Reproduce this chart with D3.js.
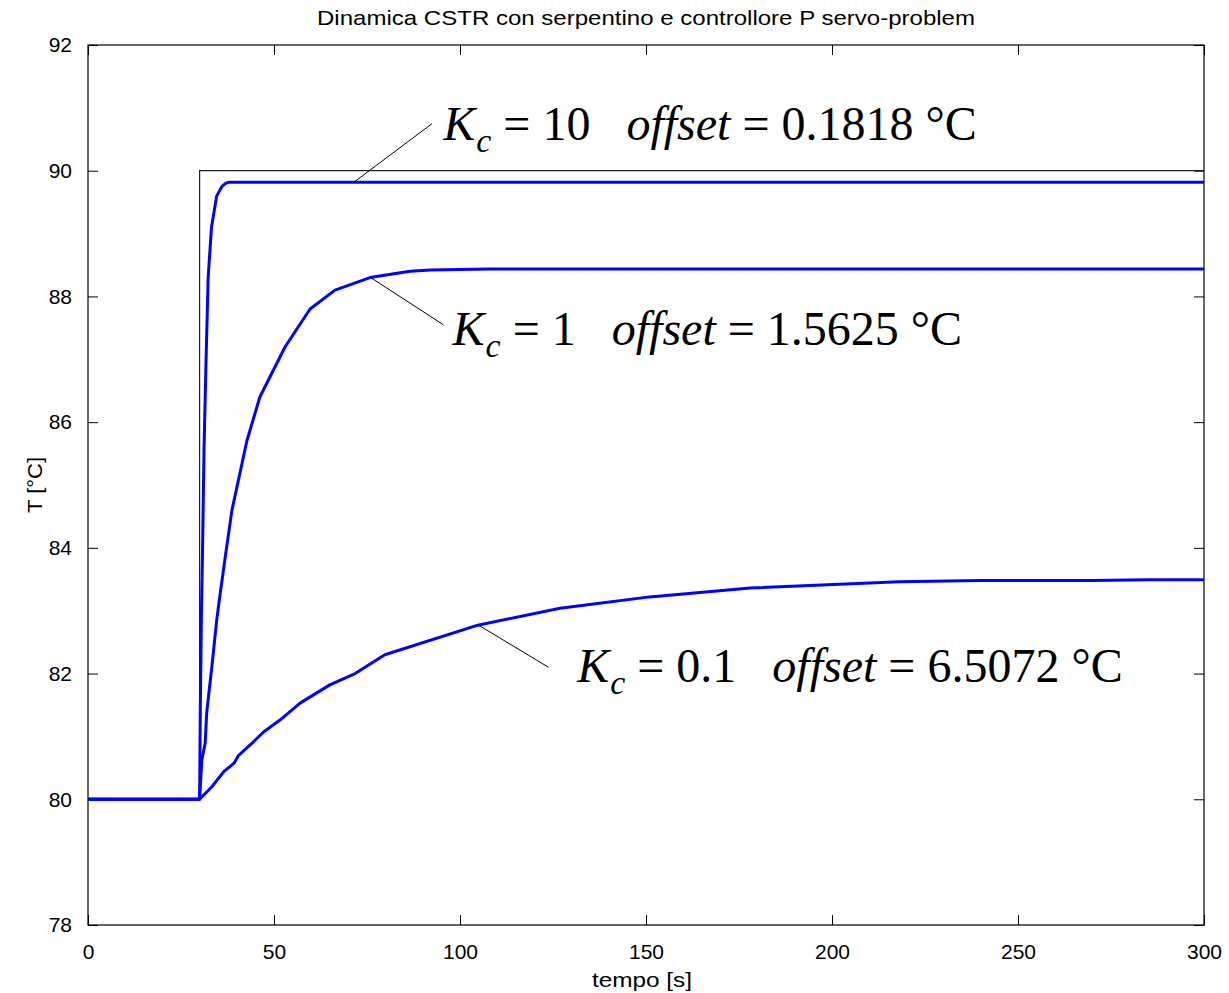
<!DOCTYPE html>
<html>
<head>
<meta charset="utf-8">
<script src="https://cdn.jsdelivr.net/npm/d3@7"></script>
<style>
html,body{margin:0;padding:0;background:#fff;}
svg{display:block;}
</style>
</head>
<body>
<svg id="chart" width="1229" height="993"></svg>
<script>
// ---- data ----
const title = "Dinamica CSTR con serpentino e controllore P servo-problem";
const xLabel = "tempo [s]";
const yLabel = "T [°C]";
const xTicks = [0, 50, 100, 150, 200, 250, 300];
const yTicks = [78, 80, 82, 84, 86, 88, 90, 92];

const setpointT = [0, 30, 30, 300];
const setpointY = [80, 80, 90, 90];

const kc10T = [0, 30, 30.2, 30.5, 30.8, 31.2, 31.7, 32.3, 33.2, 34.6, 36, 37, 38, 300];
const kc10Y = [80, 80, 81.5, 83.0, 84.0, 85.6, 86.9, 88.3, 89.1, 89.6, 89.75, 89.8, 89.818, 89.818];

const kc1T = [0, 30, 30.6, 31.5, 31.9, 33.3, 34.6, 35.3, 37, 38.7, 42.7, 46.2, 53, 59.7, 66.4, 75.8, 86.6, 92, 108, 300];
const kc1Y = [80, 80, 80.63, 80.89, 81.37, 82.11, 82.85, 83.17, 83.9, 84.6, 85.7, 86.4, 87.2, 87.8, 88.1, 88.3, 88.4, 88.42, 88.4375, 88.4375];

const kc01T = [0, 30, 33.3, 36.5, 39.2, 40.5, 43.5, 47.2, 51.6, 57, 65, 71.8, 79.8, 104.8, 126.9, 151, 178, 218, 240, 270, 285, 300];
const kc01Y = [80, 80, 80.2, 80.44, 80.57, 80.7, 80.86, 81.07, 81.26, 81.53, 81.82, 82.0, 82.3, 82.77, 83.04, 83.22, 83.36, 83.46, 83.48, 83.48, 83.4928, 83.4928];

const annKc = ["10", "1", "0.1"];
const annOffset = ["0.1818", "1.5625", "6.5072"];
// annotation arrow anchor on curve (data) and text anchor (data)
const annPointT = [71.5, 76, 105];
const annPointY = [89.818, 88.3, 82.77];
const annLineEndT = [92.5, 95.5, 123.8];
const annLineEndY = [90.75, 87.55, 82.1];
const annTextT = [95.5, 98, 131.5];
const annTextY = [90.49, 87.23, 81.87];

// ---- layout ----
const svg = d3.select("#chart");
const L = 88, R = 1204, T = 45, B = 925;
const x = d3.scaleLinear().domain([0, 300]).range([L, R]);
const y = d3.scaleLinear().domain([78, 92]).range([B, T]);
const tickLen = 10;

// frame
svg.append("rect").attr("x", L).attr("y", T).attr("width", R - L).attr("height", B - T)
  .attr("fill", "#fff").attr("stroke", "#000").attr("stroke-width", 1.2);

// axes
const axFont = "Arial, 'Liberation Sans', sans-serif";
const gx = svg.append("g").attr("transform", `translate(0,${B})`)
  .call(d3.axisBottom(x).tickValues(xTicks).tickSize(-tickLen).tickPadding(tickLen + 9).tickFormat(d3.format("d")));
const gxt = svg.append("g").attr("transform", `translate(0,${T})`)
  .call(d3.axisTop(x).tickValues(xTicks).tickSize(-tickLen).tickFormat(""));
const gy = svg.append("g").attr("transform", `translate(${L},0)`)
  .call(d3.axisLeft(y).tickValues(yTicks).tickSize(-tickLen).tickPadding(tickLen + 6).tickFormat(d3.format("d")));
const gyr = svg.append("g").attr("transform", `translate(${R},0)`)
  .call(d3.axisRight(y).tickValues(yTicks).tickSize(-tickLen).tickFormat(""));
[gx, gxt, gy, gyr].forEach(g => {
  g.select(".domain").remove();
  g.selectAll(".tick line").attr("stroke", "#000").attr("stroke-width", 1);
  g.selectAll("text").attr("font-family", axFont).attr("font-size", 21).attr("fill", "#000");
});

// lines
const line = d3.line().x(d => x(d[0])).y(d => y(d[1]));
const zip = (a, b) => a.map((v, i) => [v, b[i]]);

svg.append("path").datum(zip(setpointT, setpointY)).attr("d", line)
  .attr("fill", "none").attr("stroke", "#222").attr("stroke-width", 1.2);

[[kc10T, kc10Y], [kc1T, kc1Y], [kc01T, kc01Y]].forEach(([t, v]) => {
  svg.append("path").datum(zip(t, v)).attr("d", line)
    .attr("fill", "none").attr("stroke", "#0000ff").attr("stroke-width", 3)
    .attr("stroke-linejoin", "round");
});

// annotations
const serif = "'Times New Roman', 'Liberation Serif', serif";
annKc.forEach((kc, i) => {
  svg.append("line")
    .attr("x1", x(annPointT[i])).attr("y1", y(annPointY[i]))
    .attr("x2", x(annLineEndT[i])).attr("y2", y(annLineEndY[i]))
    .attr("stroke", "#000").attr("stroke-width", 1);
  const tx = svg.append("text").attr("x", x(annTextT[i])).attr("y", y(annTextY[i]))
    .attr("font-family", serif).attr("font-size", 48).attr("fill", "#000")
    .attr("xml:space", "preserve");
  tx.append("tspan").attr("font-style", "italic").text("K");
  tx.append("tspan").attr("font-style", "italic").attr("font-size", 34).attr("dy", 12).attr("dx", 1).text("c");
  tx.append("tspan").attr("dy", -12).text(" = " + kc + "   ");
  tx.append("tspan").attr("font-style", "italic").text("offset");
  tx.append("tspan").text(" = " + annOffset[i] + " °C");
});

// title & labels
svg.append("text").attr("x", (L + R) / 2).attr("y", 25).attr("text-anchor", "middle")
  .attr("font-family", axFont).attr("font-size", 21)
  .attr("textLength", 658).attr("lengthAdjust", "spacingAndGlyphs").text(title);
svg.append("text").attr("x", 642).attr("y", 987).attr("text-anchor", "middle")
  .attr("font-family", axFont).attr("font-size", 21)
  .attr("textLength", 100).attr("lengthAdjust", "spacingAndGlyphs").text(xLabel);
svg.append("text").attr("transform", `translate(42,${(T + B) / 2}) rotate(-90)`).attr("text-anchor", "middle")
  .attr("font-family", axFont).attr("font-size", 21)
  .attr("textLength", 56).attr("lengthAdjust", "spacingAndGlyphs").text(yLabel);
</script>
</body>
</html>
